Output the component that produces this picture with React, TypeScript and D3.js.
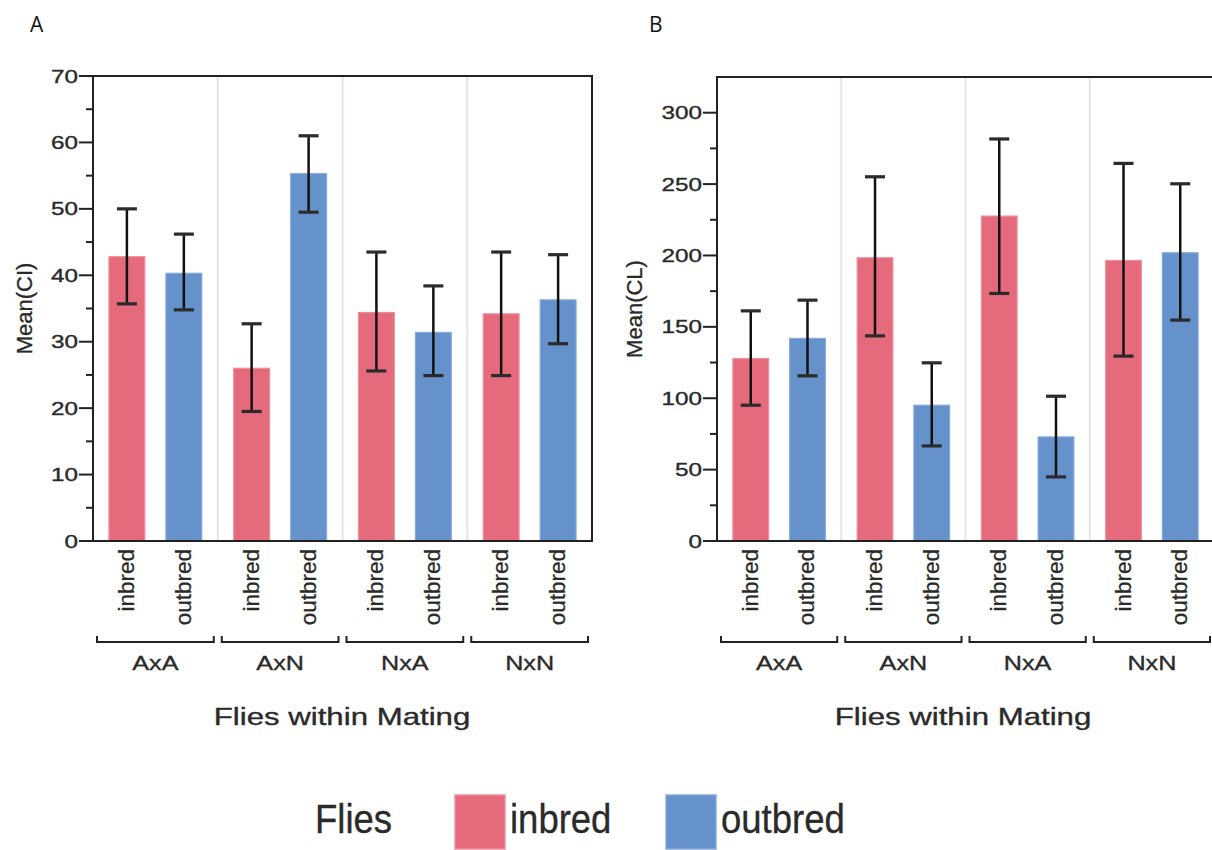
import React, { useEffect, useRef } from 'react';
import * as d3 from 'd3';

const groups = ['AxA', 'AxN', 'NxA', 'NxN'];
const flies = ['inbred', 'outbred'];
const fillColors = ['#e56a7b', '#6692cb'];
const edgeColors = ['#f08f9c', '#86a9dc'];

// panel A: Mean(CI)
const ciInbred = [42.8, 26.0, 34.4, 34.2];
const ciInbredLo = [35.7, 19.5, 25.6, 24.9];
const ciInbredHi = [50.0, 32.7, 43.5, 43.5];
const ciOutbred = [40.3, 55.3, 31.4, 36.3];
const ciOutbredLo = [34.8, 49.5, 24.9, 29.7];
const ciOutbredHi = [46.2, 61.0, 38.4, 43.1];

// panel B: Mean(CL)
const clInbred = [127.8, 198.4, 227.6, 196.5];
const clInbredLo = [95.1, 143.7, 173.4, 129.5];
const clInbredHi = [161.2, 255.1, 281.6, 264.5];
const clOutbred = [141.9, 95.1, 72.9, 201.9];
const clOutbredLo = [115.7, 66.6, 44.9, 154.7];
const clOutbredHi = [168.7, 124.8, 101.4, 250.2];

const FONT = "'Liberation Sans', Arial, Helvetica, sans-serif";
const INK = '#2a2a2a';

const panels = [
  {
    letter: 'A', letterX: 30, yTitle: 'Mean(CI)', titleX: 24, xTitleX: 342,
    means: [ciInbred, ciOutbred], lows: [ciInbredLo, ciOutbredLo], highs: [ciInbredHi, ciOutbredHi],
    yMax: 70, major: 10, left: 93, right: 592, top: 76, bottom: 541,
  },
  {
    letter: 'B', letterX: 649, yTitle: 'Mean(CL)', titleX: 634, xTitleX: 963,
    means: [clInbred, clOutbred], lows: [clInbredLo, clOutbredLo], highs: [clInbredHi, clOutbredHi],
    yMax: 325, major: 50, left: 717, right: 1214, top: 77, bottom: 541,
  },
];

// text with horizontal stretch, as in the source image
const stretchText = (g, x, y, str, size, sx, anchor) =>
  g.append('g')
    .attr('transform', `translate(${x},${y})`)
    .append('text')
    .attr('transform', `scale(${sx},1)`)
    .attr('text-anchor', anchor)
    .attr('font-family', FONT)
    .attr('font-size', size)
    .attr('fill', INK)
    .attr('stroke', INK)
    .attr('stroke-width', 0.35)
    .text(str);

const App = () => {
  const svgRef = useRef(null);

  useEffect(() => {
    const svg = d3.select(svgRef.current);
    svg.selectAll('*').remove();

    panels.forEach((p) => {
      const g = svg.append('g');

      const y = d3.scaleLinear().domain([0, p.yMax]).range([p.bottom, p.top]);
      const x0 = d3.scaleBand().domain(groups).range([p.left, p.right]).padding(0);
      const x1 = d3.scaleBand().domain(flies).range([0, x0.bandwidth()])
        .paddingInner(0.37).paddingOuter(0.28);

      // panel letter
      g.append('text')
        .attr('x', p.letterX).attr('y', 32)
        .attr('font-family', "'Open Sans', sans-serif")
        .attr('font-size', 21)
        .attr('fill', '#111')
        .text(p.letter);

      // group dividers
      g.selectAll('.div')
        .data(groups.slice(1))
        .enter()
        .append('line')
        .attr('x1', (d) => x0(d)).attr('x2', (d) => x0(d))
        .attr('y1', p.top).attr('y2', p.bottom)
        .attr('stroke', '#e2e5eb').attr('stroke-width', 2);

      // bars
      flies.forEach((f, fi) => {
        g.selectAll(null)
          .data(groups)
          .enter()
          .append('rect')
          .attr('x', (d) => x0(d) + x1(f))
          .attr('y', (d, i) => y(p.means[fi][i]))
          .attr('width', x1.bandwidth())
          .attr('height', (d, i) => p.bottom - y(p.means[fi][i]))
          .attr('fill', fillColors[fi])
          .attr('stroke', edgeColors[fi])
          .attr('stroke-width', 1.2);
      });

      // error bars
      flies.forEach((f, fi) => {
        groups.forEach((grp, i) => {
          const cx = x0(grp) + x1(f) + x1.bandwidth() / 2;
          const lo = y(p.lows[fi][i]);
          const hi = y(p.highs[fi][i]);
          g.append('line')
            .attr('x1', cx).attr('x2', cx).attr('y1', hi).attr('y2', lo)
            .attr('stroke', '#111').attr('stroke-width', 2.5);
          [hi, lo].forEach((yy) => {
            g.append('line')
              .attr('x1', cx - 10).attr('x2', cx + 10).attr('y1', yy).attr('y2', yy)
              .attr('stroke', '#2b2b2b').attr('stroke-width', 3.2);
          });
        });
      });

      // frame
      g.append('rect')
        .attr('x', p.left).attr('y', p.top)
        .attr('width', p.right - p.left).attr('height', p.bottom - p.top)
        .attr('fill', 'none').attr('stroke', '#222').attr('stroke-width', 2);

      // y ticks
      const minorTicks = d3.range(p.major / 2, p.yMax, p.major);
      g.selectAll(null)
        .data(minorTicks)
        .enter()
        .append('line')
        .attr('x1', p.left - 7).attr('x2', p.left)
        .attr('y1', (d) => y(d)).attr('y2', (d) => y(d))
        .attr('stroke', '#222').attr('stroke-width', 2);
      const majorTicks = d3.range(0, p.yMax + 0.001, p.major);
      majorTicks.forEach((t) => {
        g.append('line')
          .attr('x1', p.left - 14).attr('x2', p.left)
          .attr('y1', y(t)).attr('y2', y(t))
          .attr('stroke', '#222').attr('stroke-width', 2);
        stretchText(g, p.left - 15, y(t) + 6.5, String(t), 18, 1.35, 'end');
      });

      // y title
      g.append('text')
        .attr('transform', `translate(${p.titleX},${(p.top + p.bottom) / 2}) rotate(-90)`)
        .attr('text-anchor', 'middle')
        .attr('font-family', FONT)
        .attr('font-size', 22)
        .attr('fill', INK)
        .attr('stroke', INK)
        .attr('stroke-width', 0.3)
        .attr('dominant-baseline', 'central')
        .text(p.yTitle);

      // x tick labels (rotated)
      groups.forEach((grp) => {
        flies.forEach((f) => {
          const cx = x0(grp) + x1(f) + x1.bandwidth() / 2;
          g.append('text')
            .attr('transform', `translate(${cx + 7},${p.bottom + 8}) rotate(-90)`)
            .attr('text-anchor', 'end')
            .attr('font-family', FONT)
            .attr('font-size', 22.5)
            .attr('fill', INK)
            .attr('stroke', INK)
            .attr('stroke-width', 0.3)
            .text(f);
        });
        // bracket
        const bx0 = x0(grp) + 4;
        const bx1 = x0(grp) + x0.bandwidth() - 4;
        g.append('path')
          .attr('d', `M${bx0},${p.bottom + 95} V${p.bottom + 101} H${bx1} V${p.bottom + 95}`)
          .attr('fill', 'none').attr('stroke', '#222').attr('stroke-width', 2);
        stretchText(g, x0(grp) + x0.bandwidth() / 2, p.bottom + 129, grp, 21, 1.2, 'middle');
      });

      // x title
      stretchText(g, p.xTitleX, 725, 'Flies within Mating', 24, 1.3, 'middle');
    });

    // legend
    const lg = svg.append('g');
    stretchText(lg, 315, 833, 'Flies', 41, 0.89, 'start');
    const legendX = [455, 666];
    flies.forEach((f, i) => {
      lg.append('rect')
        .attr('x', legendX[i]).attr('y', 795)
        .attr('width', 50).attr('height', 54)
        .attr('fill', fillColors[i])
        .attr('stroke', edgeColors[i]).attr('stroke-width', 1.5);
      stretchText(lg, legendX[i] + 55, 833, f, 41, 0.89, 'start');
    });
  }, []);

  return (
    <svg
      ref={svgRef}
      width={1212}
      height={850}
      style={{ position: 'absolute', left: 0, top: 0, background: '#fff' }}
    ></svg>
  );
};

export default App;
